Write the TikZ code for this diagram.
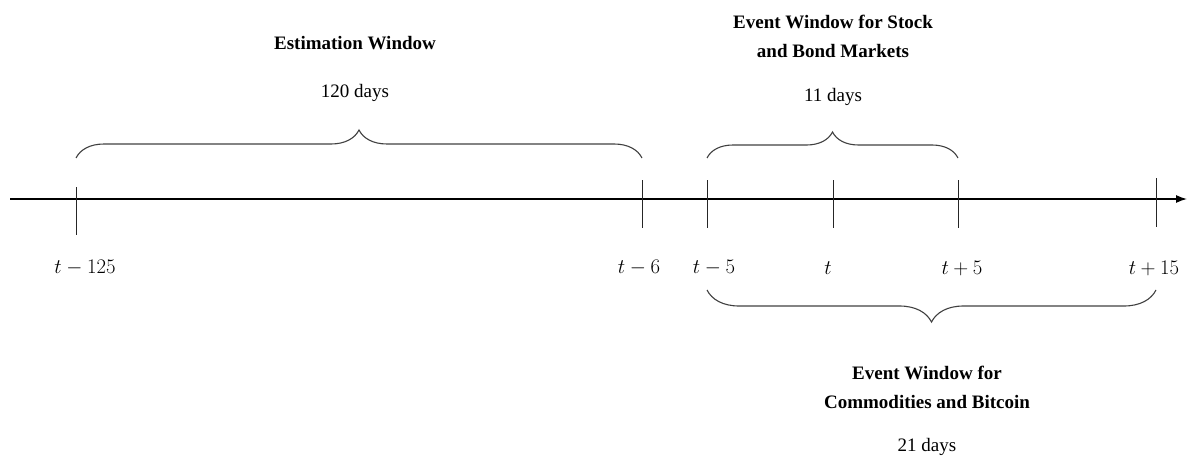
\documentclass[tikz,border=0pt]{standalone}
\usepackage{fontspec}
\setmainfont{Liberation Serif}
\usetikzlibrary{decorations.pathreplacing,arrows.meta}
\begin{document}
\begin{tikzpicture}[x=1pt,y=-1pt,
  axisline/.style={line width=1.3pt,black},
  tickline/.style={line width=1pt,black!85},
  bracepath/.style={line width=1.1pt,black!75,decorate,decoration={brace,amplitude=#1}},
  title/.style={font=\fontsize{19}{29}\selectfont\bfseries,align=center,inner sep=0pt},
  days/.style={font=\fontsize{19}{23}\selectfont,inner sep=0pt},
  ticklabel/.style={font=\fontsize{20}{24}\selectfont,inner sep=0pt}]
\useasboundingbox (0,0) rectangle (1188,468);
% axis
\coordinate (ax0) at (10,199);
\coordinate (ax1) at (1187,199);
\draw[axisline,-{Latex[length=11pt,width=8pt]}] (ax0) -- (ax1);
% ticks
\coordinate (a125) at (76,187); \coordinate (b125) at (76,235);
\coordinate (a6) at (642,180); \coordinate (b6) at (642,228);
\coordinate (a5) at (707,180); \coordinate (b5) at (707,228);
\coordinate (a0) at (833,180); \coordinate (b0) at (833,228);
\coordinate (ap5) at (958,180); \coordinate (bp5) at (958,228);
\coordinate (ap15) at (1156,178); \coordinate (bp15) at (1156,227);
\draw[tickline] (a125) -- (b125);
\draw[tickline] (a6) -- (b6);
\draw[tickline] (a5) -- (b5);
\draw[tickline] (a0) -- (b0);
\draw[tickline] (ap5) -- (bp5);
\draw[tickline] (ap15) -- (bp15);
% tick labels
\node[ticklabel] (l125) at (85,268) {$t-125$};
\node[ticklabel] (l6) at (639,268) {$t-6$};
\node[ticklabel] (l5) at (714,268) {$t-5$};
\node[ticklabel] (l0) at (828,268) {$t$};
\node[ticklabel] (lp5) at (962,268) {$t+5$};
\node[ticklabel] (lp15) at (1154,268) {$t+15$};
% braces
\coordinate (e1) at (76,158); \coordinate (e2) at (642,158);
\draw[bracepath=28pt] (e1) -- (e2);
\coordinate (s1) at (707,158); \coordinate (s2) at (958,158);
\draw[bracepath=26pt] (s1) -- (s2);
\coordinate (c1) at (1156,290); \coordinate (c2) at (707,290);
\draw[bracepath=32pt] (c1) -- (c2);
% texts
\node[title] (estt) at (355,43) {Estimation Window};
\node[days] (estd) at (355,93) {120 days};
\node[title] (stkt) at (833,36) {Event Window for Stock\\and Bond Markets};
\node[days] (stkd) at (833,97) {11 days};
\node[title] (comt) at (927,387) {Event Window for\\Commodities and Bitcoin};
\node[days] (comd) at (927,447) {21 days};
\end{tikzpicture}
\end{document}
